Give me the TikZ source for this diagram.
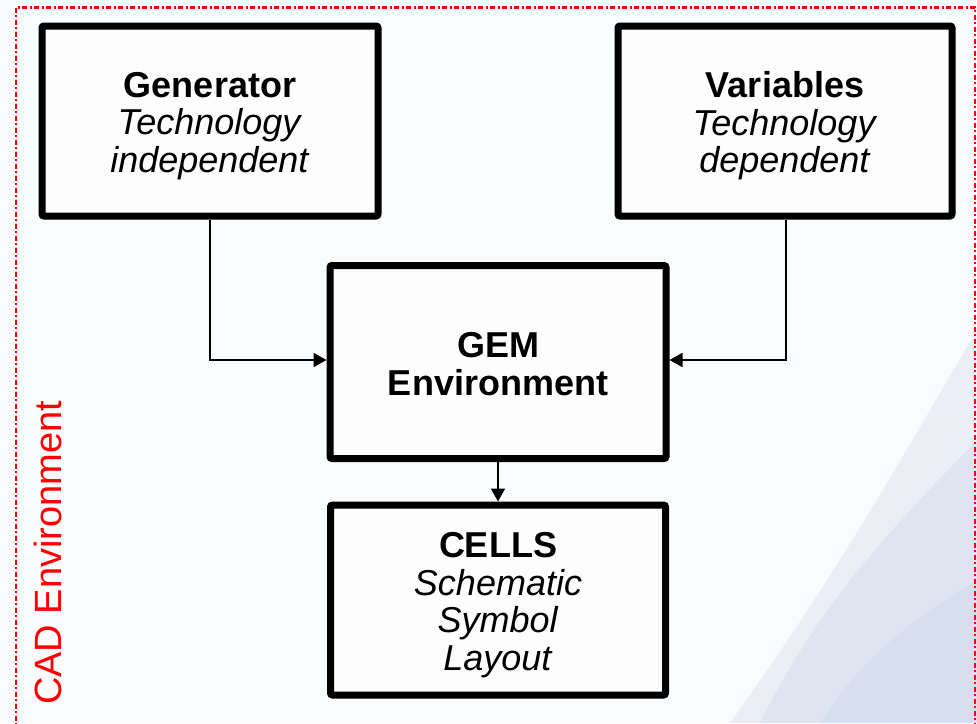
\documentclass[tikz,border=0pt]{standalone}
\usepackage{fontspec}
\setmainfont{Liberation Sans}
\usetikzlibrary{arrows.meta}
\definecolor{bgbase}{RGB}{250,251,252}
\definecolor{swA}{RGB}{225,231,241}
\definecolor{swB}{RGB}{200,213,233}
\tikzset{
  blockbox/.style={draw=black, line width=7pt, rounded corners=2pt, fill=white, fill opacity=0.6, text opacity=1},
  connector/.style={draw=black, line width=1.8pt, -{Triangle[length=13pt,width=14pt]}},
  lbl/.style={align=center, font=\fontsize{36}{37.5}\selectfont, inner sep=0pt}
}
\begin{document}
\begin{tikzpicture}[x=1pt,y=-1pt]
\useasboundingbox (0,0) rectangle (977,723);
% background
\fill[bgbase] (0,0) rectangle (977,723);
\fill[swA, opacity=0.6] (977,330) .. controls (900,460) and (840,570) .. (730,723) -- (977,723) -- cycle;
\fill[swB, opacity=0.35] (977,440) .. controls (900,520) and (820,600) .. (760,723) -- (977,723) -- cycle;
\fill[swB, opacity=0.35] (977,580) .. controls (910,620) and (860,660) .. (820,723) -- (977,723) -- cycle;
% red frame
\draw[red, line width=2.5pt, dash pattern=on 5pt off 2.5pt on 2pt off 2.5pt] (16,7.5) rectangle (975,740);
% boxes
\node[blockbox, minimum width=336pt, minimum height=190pt] (gen) at (210,121) {};
\node[lbl] at ([yshift=-5pt]gen.center) {\textbf{Generator}\\\textit{Technology}\\\textit{independent}};
\node[blockbox, minimum width=334pt, minimum height=190pt] (var) at (785,121) {};
\node[lbl] at ([yshift=-5pt]var.center) {\textbf{Variables}\\\textit{Technology}\\\textit{dependent}};
\node[blockbox, minimum width=336pt, minimum height=193pt] (gem) at (498,362) {};
\node[lbl] at ([yshift=-2pt]gem.center) {\textbf{GEM}\\\textbf{Environment}};
\node[blockbox, minimum width=335pt, minimum height=190pt] (cells) at (498,600) {};
\node[lbl] at ([yshift=-5pt]cells.center) {\textbf{CELLS}\\\textit{Schematic}\\\textit{Symbol}\\\textit{Layout}};
% connectors
\coordinate (c1) at (210,360);
\coordinate (c2) at (786,360);
\draw[connector] (gen.south) |- (gem.west |- c1);
\draw[connector] (var.south -| c2) |- (gem.east |- c2);
\draw[connector] (gem.south) -- (cells.north);
% side label
\node[red, rotate=90, anchor=west, font=\fontsize{38}{38}\selectfont, inner sep=0pt] (cad) at (48,705) {CAD Environment};
\end{tikzpicture}
\end{document}
